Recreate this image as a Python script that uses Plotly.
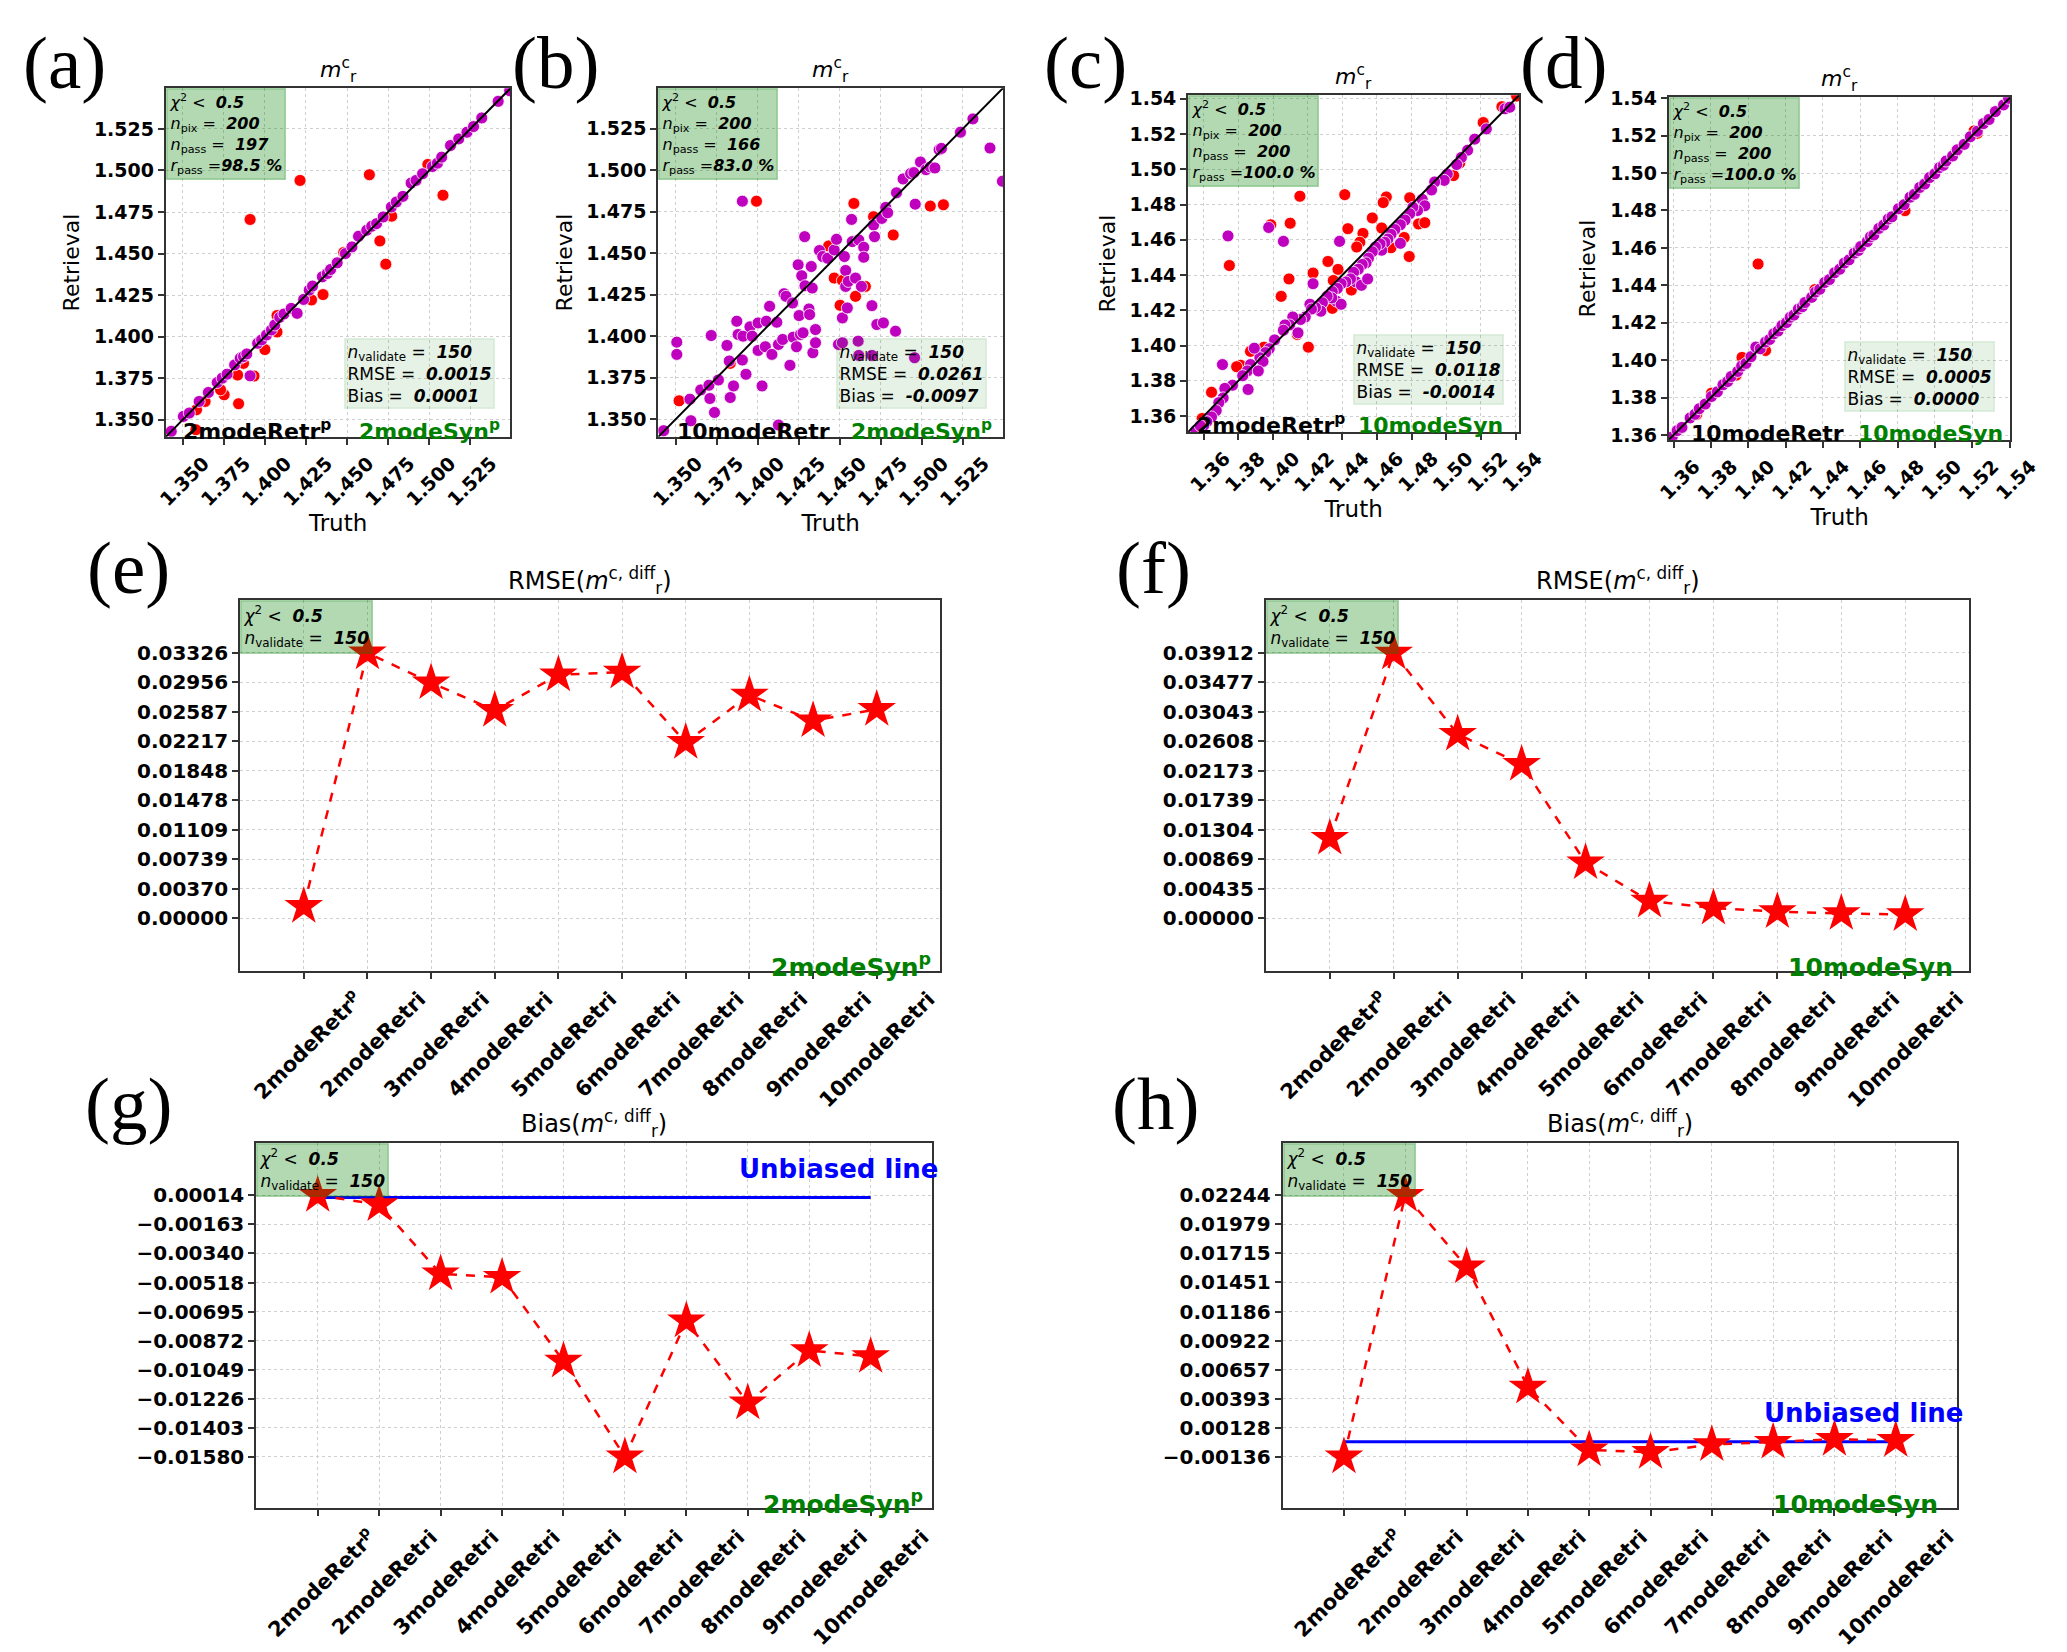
import plotly.graph_objects as go

FONT = "DejaVu Sans"
SERIF = "Liberation Serif"
RED = "#ff0000"
MAG = "#bf00bf"
GREEN = "#008000"

# --- scatter panels (a)-(d): retrieval vs truth of m_r^c ---

a_red_x = [1.391, 1.4214, 1.4636, 1.5084, 1.4992, 1.470, 1.4736, 1.4772, 1.4354, 1.4284, 1.4074, 1.4074,
           1.400, 1.3934, 1.3834, 1.384, 1.3752, 1.373, 1.3636, 1.3584, 1.358, 1.387, 1.448]
a_red_y = [1.4705, 1.494, 1.4974, 1.4851, 1.5036, 1.4576, 1.4436, 1.4725, 1.4253, 1.4221, 1.4127, 1.4028,
           1.3922, 1.3763, 1.3769, 1.3596, 1.365, 1.368, 1.361, 1.356, 1.344, 1.3839, 1.4506]
a_mag_x = [1.343, 1.3504, 1.354, 1.360, 1.3656, 1.371, 1.374, 1.377, 1.3816, 1.385, 1.387, 1.389, 1.391,
           1.3956, 1.398, 1.401, 1.404, 1.406, 1.409, 1.4116, 1.416, 1.4196, 1.4236, 1.427, 1.429, 1.435,
           1.438, 1.440, 1.444, 1.449, 1.453, 1.457, 1.462, 1.465, 1.468, 1.472, 1.477, 1.480, 1.484,
           1.489, 1.492, 1.496, 1.502, 1.505, 1.5076, 1.513, 1.518, 1.523, 1.527, 1.532, 1.542, 1.549]
a_mag_y = [1.343, 1.352, 1.354, 1.361, 1.3664, 1.3724, 1.375, 1.3774, 1.383, 1.387, 1.388, 1.3896, 1.3764,
           1.396, 1.398, 1.401, 1.404, 1.407, 1.4116, 1.4136, 1.417, 1.414, 1.4224, 1.428, 1.4304, 1.436,
           1.438, 1.4404, 1.4444, 1.45, 1.454, 1.4604, 1.464, 1.4664, 1.468, 1.472, 1.478, 1.481, 1.4844,
           1.4924, 1.494, 1.498, 1.5024, 1.5044, 1.508, 1.515, 1.519, 1.523, 1.5264, 1.5316, 1.5416, 1.548]

b_red_x = [1.352, 1.3992, 1.4432, 1.4466, 1.4516, 1.4502, 1.4586, 1.4596, 1.4656, 1.4706, 1.4826, 1.5052,
           1.5132, 1.3832]
b_red_y = [1.361, 1.4814, 1.4544, 1.435, 1.4336, 1.4186, 1.48, 1.424, 1.43, 1.472, 1.461, 1.4784,
           1.4792, 1.3836]
b_mag_x = [1.3426, 1.3506, 1.3506, 1.3586, 1.3592, 1.3652, 1.3702, 1.3708, 1.3716, 1.3736,
           1.376, 1.3812, 1.3826, 1.3832, 1.3852, 1.3872, 1.388, 1.3906, 1.391, 1.3928,
           1.3952, 1.3966, 1.4002, 1.4002, 1.4026, 1.4046, 1.4052, 1.4072, 1.4086, 1.4116,
           1.4126, 1.4152, 1.416, 1.4172, 1.4196, 1.4212, 1.4216, 1.4236, 1.4246, 1.4252,
           1.426, 1.4268, 1.4276, 1.4286, 1.4288, 1.4312, 1.4316, 1.4326, 1.4332, 1.4336,
           1.4352, 1.4352, 1.4376, 1.4396, 1.4426, 1.4466, 1.448, 1.4492, 1.4516, 1.4516,
           1.4528, 1.4536, 1.4536, 1.4546, 1.4552, 1.4572, 1.4576, 1.4596, 1.4612, 1.4616,
           1.4632, 1.4646, 1.4646, 1.4696, 1.4706, 1.4712, 1.4726, 1.4756, 1.4766, 1.478,
           1.4792, 1.484, 1.4846, 1.4886, 1.4932, 1.4952, 1.496, 1.4992, 1.5026, 1.5052,
           1.508, 1.5106, 1.512, 1.5236, 1.5312, 1.5416, 1.5492, 1.4126, 1.4956, 1.4696,
           1.4616, 1.3906]
b_mag_y = [1.343, 1.3964, 1.389, 1.362, 1.349, 1.3676, 1.3704, 1.3624, 1.4004, 1.354,
           1.3736, 1.3944, 1.385, 1.363, 1.37, 1.409, 1.401, 1.3856, 1.40, 1.377,
           1.4056, 1.40, 1.408, 1.3914, 1.37, 1.3936, 1.409, 1.418, 1.389, 1.4084,
           1.395, 1.398, 1.4256, 1.424, 1.3824, 1.42, 1.3994, 1.3936, 1.443, 1.4124,
           1.401, 1.4364, 1.402, 1.46, 1.4304, 1.4164, 1.413, 1.442, 1.429, 1.39,
           1.404, 1.396, 1.4516, 1.448, 1.447, 1.452, 1.4584, 1.395, 1.396, 1.411,
           1.448, 1.4396, 1.43, 1.417, 1.433, 1.4704, 1.457, 1.435, 1.397, 1.458,
           1.43, 1.4536, 1.4476, 1.4184, 1.467, 1.46, 1.407, 1.471, 1.408, 1.4776,
           1.4744, 1.403, 1.4864, 1.4948, 1.498, 1.4986, 1.4796, 1.505, 1.5004, 1.502,
           1.5014, 1.5124, 1.5132, 1.523, 1.531, 1.5134, 1.4934, 1.3464, 1.387, 1.3884,
           1.3884, 1.4814]

c_red_x = [1.5406, 1.5321, 1.5213, 1.5042, 1.5078, 1.4789, 1.4654, 1.4636, 1.4414, 1.4155,
           1.3987, 1.4099, 1.3748, 1.4432, 1.4519, 1.4573, 1.4627, 1.4501, 1.4483, 1.4840,
           1.4876, 1.4757, 1.4681, 1.4786, 1.4317, 1.4375, 1.4231, 1.4348, 1.4092, 1.4047,
           1.4452, 1.4342, 1.4204, 1.3948, 1.3874, 1.3813, 1.3834, 1.3591, 1.4140, 1.3645,
           1.3790, 1.3870]
c_red_y = [1.5415, 1.5355, 1.5265, 1.4964, 1.5036, 1.4838, 1.4843, 1.4811, 1.4856, 1.4847,
           1.4685, 1.4694, 1.4454, 1.4663, 1.4636, 1.4724, 1.4667, 1.4586, 1.4559, 1.4690,
           1.4697, 1.4613, 1.4555, 1.4505, 1.4477, 1.4432, 1.4411, 1.4369, 1.4378, 1.4279,
           1.4315, 1.4211, 1.3991, 1.3991, 1.3973, 1.3888, 1.3838, 1.3586, 1.4063, 1.3735,
           1.3880, 1.3967]
c_mag_x = [1.5339, 1.5366, 1.5231, 1.5164, 1.5123, 1.5087, 1.5060, 1.5006, 1.4988, 1.4933,
           1.4915, 1.4861, 1.4876, 1.4834, 1.4807, 1.4789, 1.4762, 1.4735, 1.4703, 1.4681,
           1.4663, 1.4645, 1.4627, 1.4618, 1.4591, 1.4573, 1.4551, 1.4537, 1.4515, 1.4492,
           1.4465, 1.4479, 1.4510, 1.4546, 1.4447, 1.4420, 1.4393, 1.4371, 1.4342, 1.4366,
           1.4393, 1.4339, 1.4312, 1.4285, 1.4276, 1.4245, 1.4213, 1.4222, 1.4186, 1.4159,
           1.4114, 1.4096, 1.4069, 1.4060, 1.4144, 1.4009, 1.3978, 1.3957, 1.3924, 1.3942,
           1.3892, 1.3870, 1.3852, 1.3825, 1.3915, 1.3856, 1.3766, 1.3722, 1.3712, 1.3708,
           1.3687, 1.3672, 1.3645, 1.3618, 1.3600, 1.4231, 1.4384, 1.4060, 1.3975, 1.3740,
           1.4735, 1.3555, 1.3580]
c_mag_y = [1.5343, 1.5352, 1.5229, 1.5171, 1.5108, 1.5067, 1.5027, 1.4973, 1.4937, 1.4928,
           1.4883, 1.4829, 1.4793, 1.4766, 1.4784, 1.4748, 1.4712, 1.4685, 1.4658, 1.4631,
           1.4604, 1.4586, 1.4541, 1.4577, 1.4559, 1.4532, 1.4496, 1.4469, 1.4460, 1.4433,
           1.4415, 1.4361, 1.4342, 1.4378, 1.4378, 1.4361, 1.4351, 1.4324, 1.4306, 1.4252,
           1.4234, 1.4270, 1.4279, 1.4243, 1.4195, 1.4216, 1.4234, 1.4207, 1.4162, 1.4148,
           1.4162, 1.4117, 1.4117, 1.4087, 1.4072, 1.4032, 1.3982, 1.3960, 1.3931, 1.3910,
           1.3985, 1.3892, 1.3856, 1.3829, 1.3856, 1.3751, 1.3775, 1.3757, 1.3703, 1.3892,
           1.3676, 1.3631, 1.3595, 1.3568, 1.3546, 1.4351, 1.4591, 1.4591, 1.4670, 1.4622,
           1.4580, 1.3520, 1.3545]

d_red_x = [1.4053, 1.3967, 1.4840, 1.5227, 1.4093, 1.3724, 1.3803, 1.3935, 1.4357, 1.5113, 1.5210]
d_red_y = [1.4514, 1.4015, 1.4799, 1.5212, 1.4052, 1.3710, 1.3824, 1.3920, 1.4377, 1.5115, 1.5225]
d_mag_x = [1.3580, 1.3593, 1.3620, 1.3645, 1.3689, 1.3715, 1.3738, 1.3770, 1.3803, 1.3835,
           1.3865, 1.3890, 1.3909, 1.3944, 1.3965, 1.3988, 1.4015, 1.4041, 1.4065, 1.4093,
           1.4115, 1.4137, 1.4160, 1.4181, 1.4205, 1.4225, 1.4245, 1.4269, 1.4290, 1.4304,
           1.4340, 1.4360, 1.4383, 1.4410, 1.4435, 1.4463, 1.4490, 1.4515, 1.4540, 1.4568,
           1.4590, 1.4603, 1.4638, 1.4655, 1.4673, 1.4700, 1.4726, 1.4750, 1.4770, 1.4805,
           1.4835, 1.4867, 1.4890, 1.4919, 1.4945, 1.4972, 1.5000, 1.5025, 1.5045, 1.5060,
           1.5095, 1.5120, 1.5157, 1.5190, 1.5227, 1.5260, 1.5290, 1.5324, 1.5368, 1.5395]
d_mag_y = [1.3578, 1.3590, 1.3624, 1.3641, 1.3692, 1.3711, 1.3741, 1.3766, 1.3806, 1.3831,
           1.3869, 1.3886, 1.3913, 1.3940, 1.3969, 1.3983, 1.4019, 1.4070, 1.4061, 1.4097,
           1.4111, 1.4141, 1.4156, 1.4185, 1.4201, 1.4229, 1.4241, 1.4273, 1.4286, 1.4308,
           1.4336, 1.4364, 1.4379, 1.4415, 1.4431, 1.4467, 1.4486, 1.4519, 1.4536, 1.4572,
           1.4586, 1.4607, 1.4634, 1.4659, 1.4669, 1.4704, 1.4722, 1.4754, 1.4766, 1.4809,
           1.4831, 1.4871, 1.4886, 1.4923, 1.4941, 1.4976, 1.4996, 1.5029, 1.5041, 1.5064,
           1.5091, 1.5124, 1.5153, 1.5194, 1.5223, 1.5264, 1.5286, 1.5328, 1.5364, 1.5399]

scatter_npix = [200, 200, 200, 200]
scatter_npass = [197, 166, 200, 200]
scatter_rpass = ["98.5", "83.0", "100.0", "100.0"]
scatter_nvalid = [150, 150, 150, 150]
scatter_rmse = ["0.0015", "0.0261", "0.0118", "0.0005"]
scatter_bias = ["0.0001", "-0.0097", "-0.0014", "0.0000"]
scatter_retr = ["2modeRetr<sup>p</sup>", "10modeRetr", "2modeRetr<sup>p</sup>", "10modeRetr"]
scatter_syn = ["2modeSyn<sup>p</sup>", "2modeSyn<sup>p</sup>", "10modeSyn", "10modeSyn"]
ticks_ab = [1.350, 1.375, 1.400, 1.425, 1.450, 1.475, 1.500, 1.525]
ticks_cd = [1.36, 1.38, 1.40, 1.42, 1.44, 1.46, 1.48, 1.50, 1.52, 1.54]

# --- line panels (e)-(h): RMSE and bias vs retrieval model ---
modes = ["2modeRetr<sup>p</sup>", "2modeRetri", "3modeRetri", "4modeRetri", "5modeRetri",
         "6modeRetri", "7modeRetri", "8modeRetri", "9modeRetri", "10modeRetri"]
e_rmse = [0.00147, 0.03326, 0.02952, 0.02605, 0.03050, 0.03086, 0.02204, 0.02796, 0.02476, 0.02618]
f_rmse = [0.01178, 0.03912, 0.02713, 0.02268, 0.00817, 0.00251, 0.00147, 0.00094, 0.00068, 0.00052]
g_bias = [0.00014, -0.00043, -0.00464, -0.00485, -0.00996, -0.01580, -0.00751, -0.01251, -0.00932, -0.00968]
h_bias = [-0.00136, 0.02244, 0.01593, 0.00499, -0.00073, -0.00095, -0.00025, -0.00003, 0.00023, 0.00013]
unbiased = [0.0, 0.0]
e_ticks = [0.0, 0.0037, 0.00739, 0.01109, 0.01478, 0.01848, 0.02217, 0.02587, 0.02956, 0.03326]
f_ticks = [0.0, 0.00435, 0.00869, 0.01304, 0.01739, 0.02173, 0.02608, 0.03043, 0.03477, 0.03912]
g_ticks = [0.00014, -0.00163, -0.0034, -0.00518, -0.00695, -0.00872, -0.01049, -0.01226, -0.01403, -0.0158]
h_ticks = [0.02244, 0.01979, 0.01715, 0.01451, 0.01186, 0.00922, 0.00657, 0.00393, 0.00128, -0.00136]

fig = go.Figure()
annotations = []


def names(n):
    s = "" if n == 1 else str(n)
    return "x" + s, "y" + s, "xaxis" + s, "yaxis" + s


def axis_style(domain, anchor, tick_size):
    return dict(domain=domain, anchor=anchor, showline=True, mirror=True, linecolor="#333333",
                linewidth=2, ticks="outside", ticklen=6, tickwidth=1.5, tickcolor="#333333",
                showgrid=True, gridcolor="#cfcfcf", griddash="dot", gridwidth=1, zeroline=False,
                tickfont=dict(family=FONT, size=tick_size, color="black", weight="bold"))


def tag(text, x, y):
    annotations.append(dict(text=text, x=x, y=y, xref="paper", yref="paper", showarrow=False,
                            xanchor="center", yanchor="middle", borderpad=0,
                            font=dict(family=SERIF, size=75, color="black")))


# scatter panels
scatter_cfg = [
    (1, "(a)", 0.0256, [0.0755, 0.2458], [0.7391, 0.9522], [1.3397, 1.5495], ticks_ab, ".3f",
     a_red_x, a_red_y, a_mag_x, a_mag_y, 0.045, 0.975),
    (2, "(b)", 0.268, [0.3188, 0.4891], [0.7391, 0.9522], [1.3393, 1.5495], ticks_ab, ".3f",
     b_red_x, b_red_y, b_mag_x, b_mag_y, 0.05, 0.975),
    (3, "(c)", 0.530, [0.5806, 0.7441], [0.7421, 0.9479], [1.351, 1.542], ticks_cd, ".2f",
     c_red_x, c_red_y, c_mag_x, c_mag_y, 0.022, 0.958),
    (4, "(d)", 0.766, [0.8181, 0.9869], [0.7373, 0.9467], [1.3575, 1.5405], ticks_cd, ".2f",
     d_red_x, d_red_y, d_mag_x, d_mag_y, 0.058, 0.985),
]

for i, (n, label, tagx, dx, dy, rng, ticks, fmt, rx, ry, mx, my, retr_x, syn_x) in enumerate(scatter_cfg):
    xa, ya, xkey, ykey = names(n)
    fig.add_trace(go.Scatter(x=rx, y=ry, mode="markers", xaxis=xa, yaxis=ya, showlegend=False,
                             marker=dict(color=RED, size=12, line=dict(color="white", width=0.8))))
    fig.add_trace(go.Scatter(x=mx, y=my, mode="markers", xaxis=xa, yaxis=ya, showlegend=False,
                             marker=dict(color=MAG, size=12, line=dict(color="white", width=0.8))))
    fig.add_trace(go.Scatter(x=rng, y=rng, mode="lines", xaxis=xa, yaxis=ya, showlegend=False,
                             line=dict(color="black", width=2)))
    xax = axis_style(dx, ya, 19)
    xax.update(range=rng, tickvals=ticks, tickformat=fmt, tickangle=-45, ticklabelshift=21,
               title=dict(text="Truth", font=dict(family=FONT, size=23, color="black"), standoff=6))
    yax = axis_style(dy, xa, 19)
    yax.update(range=rng, tickvals=ticks, tickformat=fmt,
               title=dict(text="Retrieval", font=dict(family=FONT, size=22, color="black"), standoff=8))
    fig.update_layout({xkey: xax, ykey: yax})
    tag(label, tagx, 0.968)
    dom = dict(xref=xa + " domain", yref=ya + " domain", showarrow=False)
    annotations.append(dict(dom, text="<i>m</i><sup>c</sup><sub>r</sub>", x=0.5, y=1.0,
                            xanchor="center", yanchor="bottom",
                            font=dict(family=FONT, size=22, color="black")))
    box = ("<i>χ</i><sup>2</sup> <  <b><i>0.5</i></b><br>"
           f"<i>n</i><sub>pix</sub> =  <b><i>{scatter_npix[i]}</i></b><br>"
           f"<i>n</i><sub>pass</sub> =  <b><i>{scatter_npass[i]}</i></b><br>"
           f"<i>r</i><sub>pass</sub> =<b><i>{scatter_rpass[i]} %</i></b>")
    annotations.append(dict(dom, text=box, x=0, y=1, xanchor="left", yanchor="top", align="left",
                            bgcolor="rgba(0,128,0,0.3)", bordercolor="rgba(0,128,0,0.3)",
                            borderwidth=1.5, borderpad=2,
                            font=dict(family=FONT, size=16, color="black")))
    stats = (f"<i>n</i><sub>validate</sub> =  <b><i>{scatter_nvalid[i]}</i></b><br>"
             f"RMSE =  <b><i>{scatter_rmse[i]}</i></b><br>"
             f"Bias =  <b><i>{scatter_bias[i]}</i></b>")
    annotations.append(dict(dom, text=stats, x=0.955, y=0.08, xanchor="right", yanchor="bottom",
                            align="left", bgcolor="rgba(0,128,0,0.1)",
                            bordercolor="rgba(0,128,0,0.1)", borderwidth=1.5, borderpad=2,
                            font=dict(family=FONT, size=17, color="black")))
    annotations.append(dict(dom, text="<b>" + scatter_retr[i] + "</b>", x=retr_x, y=-0.025,
                            xanchor="left", yanchor="bottom",
                            font=dict(family=FONT, size=22, color="black")))
    annotations.append(dict(dom, text="<b>" + scatter_syn[i] + "</b>", x=syn_x, y=-0.025,
                            xanchor="right", yanchor="bottom",
                            font=dict(family=FONT, size=22, color=GREEN)))

# line panels
line_cfg = [
    (5, "(e)", 0.0573, 0.659, [0.1122, 0.4582], [0.4128, 0.6392], e_rmse, [-0.0066, 0.03986], e_ticks,
     "RMSE", "2modeSyn<sup>p</sup>", 0.99, None),
    (6, "(f)", 0.5636, 0.659, [0.6190, 0.9665], [0.4128, 0.6392], f_rmse, [-0.00777, 0.04689], f_ticks,
     "RMSE", "10modeSyn", 0.98, None),
    (7, "(g)", 0.0573, 0.3317, [0.1202, 0.4541], [0.0841, 0.3075], g_bias, [-0.01894, 0.00333], g_ticks,
     "Bias", "2modeSyn<sup>p</sup>", 0.99, 0.93),
    (8, "(h)", 0.5646, 0.3317, [0.6273, 0.9605], [0.0841, 0.3075], h_bias, [-0.00606, 0.0272], h_ticks,
     "Bias", "10modeSyn", 0.975, 0.26),
]

for n, label, tagx, tagy, dx, dy, vals, yr, yt, kind, syn, syn_x, unb_y in line_cfg:
    xa, ya, xkey, ykey = names(n)
    if unb_y is not None:
        fig.add_trace(go.Scatter(x=[modes[0], modes[-1]], y=unbiased, mode="lines", xaxis=xa, yaxis=ya,
                                 showlegend=False, line=dict(color="blue", width=3)))
    fig.add_trace(go.Scatter(x=modes, y=vals, mode="lines+markers", xaxis=xa, yaxis=ya, showlegend=False,
                             line=dict(color=RED, width=2.5, dash="dash"),
                             marker=dict(symbol="star", size=29, color=RED, line=dict(width=0))))
    xax = axis_style(dx, ya, 21)
    xax.update(type="category", categoryorder="array", categoryarray=modes, range=[-1, 10],
               tickangle=-45, ticklabelshift=52)
    yax = axis_style(dy, xa, 20)
    yax.update(range=yr, tickvals=yt, ticktext=[f"{v:.5f}".replace("-", "\u2212") for v in yt])
    fig.update_layout({xkey: xax, ykey: yax})
    tag(label, tagx, tagy)
    dom = dict(xref=xa + " domain", yref=ya + " domain", showarrow=False)
    annotations.append(dict(dom, text=kind + "(<i>m</i><sup>c, diff</sup><sub>r</sub>)", x=0.5, y=1.0,
                            xanchor="center", yanchor="bottom",
                            font=dict(family=FONT, size=24, color="black")))
    annotations.append(dict(dom, text="<i>χ</i><sup>2</sup> <  <b><i>0.5</i></b><br>"
                                      "<i>n</i><sub>validate</sub> =  <b><i>150</i></b>",
                            x=0, y=1, xanchor="left", yanchor="top", align="left",
                            bgcolor="rgba(0,128,0,0.3)", bordercolor="rgba(0,128,0,0.3)",
                            borderwidth=1.5, borderpad=2,
                            font=dict(family=FONT, size=17, color="black")))
    annotations.append(dict(dom, text="<b>" + syn + "</b>", x=syn_x, y=-0.035,
                            xanchor="right", yanchor="bottom",
                            font=dict(family=FONT, size=25, color=GREEN)))
    if unb_y is not None:
        annotations.append(dict(dom, text="<b>Unbiased line</b>", x=1.012, y=unb_y,
                                xanchor="right", yanchor="middle",
                                font=dict(family=FONT, size=26, color="blue")))

fig.update_layout(width=2067, height=1652, margin=dict(l=0, r=0, t=0, b=0),
                  paper_bgcolor="white", plot_bgcolor="white", showlegend=False,
                  annotations=annotations, font=dict(family=FONT, color="black"))

# drop the default page margin so the figure sits at the window origin
fig.write_html("out.html", config={"displayModeBar": False},
               post_script="document.body.style.margin='0';")
